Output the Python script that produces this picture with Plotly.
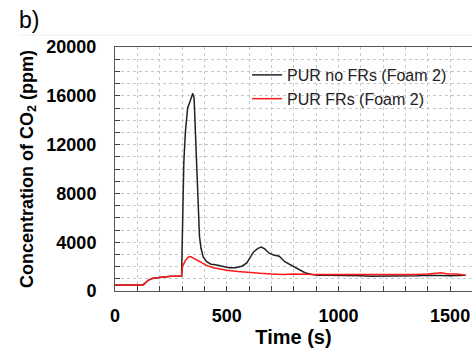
import plotly.graph_objects as go

# Time (s) and CO2 concentration (ppm)
t_black = [0, 125, 135, 150, 170, 200, 250, 298, 302, 308, 315, 325, 335, 342, 348, 354, 360, 366, 372, 378, 385, 395, 410, 430, 450, 480, 510, 540, 570, 590, 605, 620, 640, 655, 670, 690, 710, 735, 760, 790, 820, 850, 880, 910, 950, 1000, 1050, 1100, 1150, 1200, 1250, 1300, 1350, 1400, 1450, 1500, 1570]
v_black = [500, 500, 650, 900, 1050, 1100, 1200, 1200, 6000, 10500, 13000, 15000, 15500, 16000, 16200, 15800, 13000, 9500, 6500, 4500, 3500, 2800, 2400, 2200, 2150, 2050, 1900, 1900, 2050, 2300, 2800, 3200, 3500, 3600, 3450, 3100, 2950, 2850, 2400, 2100, 1800, 1500, 1350, 1300, 1300, 1300, 1300, 1250, 1200, 1200, 1250, 1250, 1250, 1300, 1250, 1250, 1300]
t_red = [0, 125, 135, 150, 170, 200, 250, 298, 302, 315, 330, 340, 350, 365, 385, 410, 440, 470, 500, 550, 600, 650, 700, 750, 800, 850, 900, 950, 1000, 1050, 1100, 1150, 1200, 1250, 1300, 1350, 1400, 1440, 1460, 1490, 1530, 1570]
v_red = [500, 500, 650, 900, 1050, 1100, 1200, 1200, 2000, 2500, 2800, 2800, 2700, 2500, 2300, 2100, 1900, 1800, 1700, 1600, 1500, 1450, 1400, 1350, 1400, 1350, 1350, 1350, 1350, 1350, 1300, 1350, 1300, 1350, 1350, 1350, 1400, 1450, 1500, 1400, 1400, 1300]
x_ticks = [0, 500, 1000, 1500]
y_ticks = [0, 4000, 8000, 12000, 16000, 20000]

fig = go.Figure()
fig.add_trace(go.Scatter(x=t_black, y=v_black, mode="lines", name="PUR no FRs (Foam 2)",
                         line=dict(color="#222222", width=1.5)))
fig.add_trace(go.Scatter(x=t_red, y=v_red, mode="lines", name="PUR FRs (Foam 2)",
                         line=dict(color="#ff1a1a", width=1.5)))

grid = dict(showgrid=True, gridcolor="#c8c8c8", griddash="dot", gridwidth=1)
tfont = dict(size=18, family="Liberation Sans", weight="bold", color="black")
fig.update_layout(
    width=472, height=350,
    margin=dict(l=115, r=0, t=47, b=59),
    plot_bgcolor="white", paper_bgcolor="white",
    font=dict(family="Liberation Sans, Arial, sans-serif", color="black"),
    showlegend=True,
    legend=dict(x=0.37, y=0.955, xanchor="left", yanchor="top", bgcolor="rgba(0,0,0,0)",
                font=dict(size=16, color="#222222"), tracegroupgap=0),
    xaxis=dict(range=[0, 1598], tickvals=x_ticks, ticktext=[str(v) for v in x_ticks],
               ticks="inside", ticklen=5, tickfont=tfont, ticklabelstandoff=8,
               showline=True, linecolor="#555555", linewidth=1, mirror=True, zeroline=False,
               minor=dict(dtick=100, tick0=0, ticks="inside", ticklen=5, showgrid=True,
                          gridcolor="#c8c8c8", griddash="dot"),
               title=dict(text="<b>Time (s)</b>", font=dict(size=20), standoff=0),
               **grid),
    yaxis=dict(range=[0, 20000], tickvals=y_ticks, ticktext=[str(v) for v in y_ticks],
               ticks="inside", ticklen=5, tickfont=tfont, ticklabelstandoff=14,
               showline=True, linecolor="#555555", linewidth=1, mirror=True, zeroline=False,
               minor=dict(dtick=1000, tick0=0, ticks="inside", ticklen=5, showgrid=True,
                          gridcolor="#c8c8c8", griddash="dot"),
               title=dict(text="<b>Concentration of CO<sub>2</sub> (ppm)</b>", font=dict(size=18), standoff=8),
               **grid),
)
fig.add_annotation(text="b)", xref="paper", yref="paper", x=-0.274, y=1.11,
                   xanchor="left", yanchor="middle", showarrow=False,
                   font=dict(size=23, color="black"))
fig.add_shape(type="line", xref="paper", yref="paper", x0=-0.27, x1=1.0, y0=1.049, y1=1.049,
              line=dict(color="#eeeeee", width=1))
fig.write_html("out.html")
